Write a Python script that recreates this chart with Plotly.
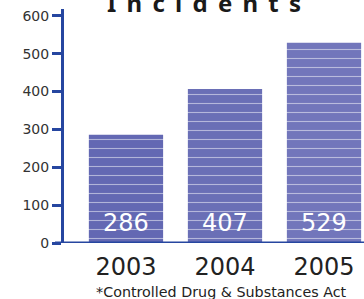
import plotly.graph_objects as go

years = ["2003", "2004", "2005"]
incidents = [286, 407, 529]
y_ticks = [0, 100, 200, 300, 400, 500, 600]
title_text = "Incidents"
footnote = "*Controlled Drug &amp; Substances Act"

xpos = list(range(len(years)))
axis_blue = "#2646a0"
bar_colors = ["#6368b3", "#6a6fb6", "#7276bb"]
FONT = "DejaVu Sans"
spaced_title = "\u00a0\u2006".join(title_text)

fig = go.Figure()
fig.add_trace(go.Bar(
    x=xpos, y=incidents, width=0.75,
    marker=dict(color=bar_colors, line=dict(width=0),
                pattern=dict(shape="-", fgcolor="#9a9dd0", size=9, solidity=0.12)),
    textposition="none",
    hoverinfo="skip",
))

for x, v in zip(xpos, incidents):
    fig.add_annotation(x=x, y=0, xref="x", yref="y", text=str(v), showarrow=False,
                       yanchor="bottom", yshift=4,
                       font=dict(family=FONT, size=24, color="white"))

fig.add_annotation(x=0.465, y=1.0, xref="paper", yref="paper", text="<b>" + spaced_title + "</b>",
                   showarrow=False, yanchor="bottom", yshift=-12,
                   font=dict(family="Noto Sans", size=24, color="#1a1a1a"))

fig.add_annotation(x=0.525, y=0, xref="paper", yref="paper", text=footnote,
                   showarrow=False, yanchor="top", yshift=-39,
                   font=dict(family=FONT, size=14.3, color="#222"))

fig.update_layout(
    width=364, height=299,
    margin=dict(l=64, r=0, t=9, b=56, autoexpand=False),
    paper_bgcolor="white", plot_bgcolor="white",
    showlegend=False,
    xaxis=dict(range=[-0.626, 2.404], tickvals=xpos, ticktext=years, automargin=False,
               showgrid=False, zeroline=False, showline=False, ticks="",
               ticklabelstandoff=7,
               tickfont=dict(family=FONT, size=24, color="#222")),
    yaxis=dict(range=[0, 618], tickvals=y_ticks, showgrid=False, zeroline=False, automargin=False,
               showline=True, linecolor=axis_blue, linewidth=3,
               ticks="outside", ticklen=9, tickwidth=3, tickcolor=axis_blue,
               tickfont=dict(family=FONT, size=14, color="#333")),
)
fig.add_shape(type="line", xref="paper", yref="y", x0=-0.03, x1=1, y0=0, y1=0,
              line=dict(color=axis_blue, width=3))

fig.write_html("out.html", config={"displayModeBar": False},
               post_script="document.body.style.margin='0';document.body.style.overflow='hidden';")
